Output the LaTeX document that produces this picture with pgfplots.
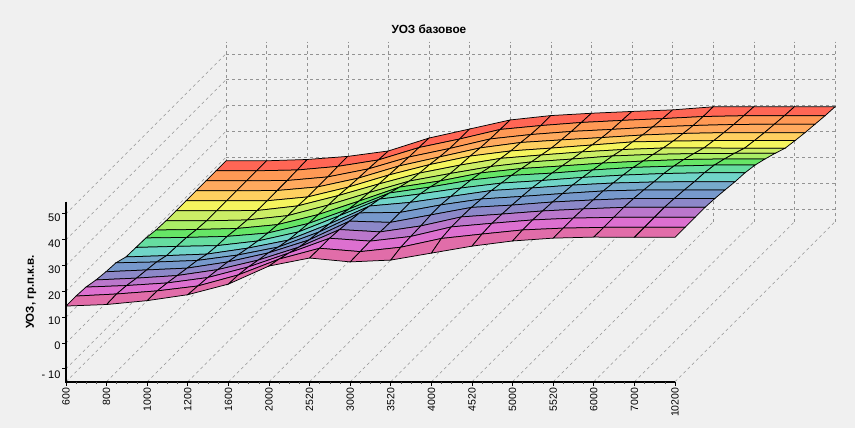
\documentclass[border=0pt]{standalone}
\usepackage{fontspec}
\setmainfont{Liberation Sans}
\usepackage{pgfplots}
\pgfplotsset{compat=1.18}
\definecolor{bg}{HTML}{F0F0F0}
\pgfdeclareplotmark{xmajor}{\pgfpathmoveto{\pgfpoint{0pt}{0pt}}\pgfpathlineto{\pgfpoint{0pt}{-4pt}}\pgfusepathqstroke}
\pgfdeclareplotmark{xminor}{\pgfpathmoveto{\pgfpoint{0pt}{0pt}}\pgfpathlineto{\pgfpoint{0pt}{-2.5pt}}\pgfusepathqstroke}
\pgfdeclareplotmark{zmajor}{\pgfpathmoveto{\pgfpoint{0pt}{0pt}}\pgfpathlineto{\pgfpoint{-4pt}{0pt}}\pgfusepathqstroke}
\begin{document}
\begin{tikzpicture}[x=1pt,y=1pt]
\useasboundingbox (0,0) rectangle (855,428);
\fill[bg] (0,0) rectangle (855,428);
\begin{axis}[
  at={(66pt,85pt)}, anchor=origin,
  x={(40.6pt,0pt)}, y={(10pt,10pt)}, z={(0pt,2.583pt)},
  xmin=0, xmax=15, ymin=0, ymax=16, zmin=-15, zmax=54.7,
  clip=false,
  axis line style={draw=none},
  xtick={0,...,15},
  xticklabels={600,800,1000,1200,1600,2000,2520,3000,3520,4000,4520,5000,5520,6000,7000,10200},
  x tick label style={rotate=90,anchor=east,font=\fontsize{10.5}{11}\selectfont,xshift=-2.5pt},
  ytick=\empty,
  ztick={-10,0,...,50},
  zticklabels={- 10,0,10,20,30,40,50},
  z tick label style={font=\fontsize{11}{12}\selectfont,xshift=-2pt},
  /pgf/number format/assume math mode=true,
  grid=major,
  grid style={gray!85,line width=0.55pt,dash pattern=on 3pt off 3pt},
  tick style={draw=none},
  colormap={bands}{
    rgb255=(227,108,156) rgb255=(221,112,208) rgb255=(187,119,204) rgb255=(140,136,200)
    rgb255=(119,153,204) rgb255=(119,170,204) rgb255=(112,213,200) rgb255=(102,221,160)
    rgb255=(102,229,102) rgb255=(170,238,102) rgb255=(204,238,102) rgb255=(245,245,94)
    rgb255=(255,208,96) rgb255=(255,170,94) rgb255=(255,153,85) rgb255=(255,85,85)},
  point meta=y, point meta min=0.5, point meta max=15.5,
]
\addplot3[surf, shader=faceted, faceted color=black, line width=0.75pt, mesh/cols=16] coordinates {
(0,16,8.6)(1,16,8.6)(2,16,9.1)(3,16,10.3)(4,16,12.4)(5,16,17.4)(6,16,20.9)(7,16,24.4)(8,16,26.1)(9,16,27.0)(10,16,27.7)(11,16,28.3)(12,16,29.5)(13,16,29.5)(14,16,29.5)(15,16,29.5)
(0,15,8.6)(1,15,8.6)(2,15,8.9)(3,15,10.3)(4,15,12.8)(5,15,17.6)(6,15,20.9)(7,15,24.6)(8,15,26.1)(9,15,27.3)(10,15,28.1)(11,15,28.8)(12,15,29.6)(13,15,29.9)(14,15,29.9)(15,15,29.9)
(0,14,8.6)(1,14,8.6)(2,14,8.7)(3,14,10.1)(4,14,13.2)(5,14,17.8)(6,14,21.1)(7,14,24.8)(8,14,26.5)(9,14,27.7)(10,14,28.5)(11,14,29.4)(12,14,30.0)(13,14,30.4)(14,14,30.5)(15,14,30.5)
(0,13,8.6)(1,13,8.6)(2,13,8.7)(3,13,10.1)(4,13,13.5)(5,13,18.2)(6,13,21.7)(7,13,25.2)(8,13,27.3)(9,13,28.3)(10,13,29.2)(11,13,30.2)(12,13,30.8)(13,13,31.1)(14,13,31.1)(15,13,31.1)
(0,12,8.6)(1,12,8.6)(2,12,8.6)(3,12,10.1)(4,12,13.9)(5,12,18.6)(6,12,22.6)(7,12,25.9)(8,12,27.9)(9,12,29.0)(10,12,30.2)(11,12,31.4)(12,12,31.7)(13,12,31.9)(14,12,31.9)(15,12,31.9)
(0,11,8.6)(1,11,8.6)(2,11,8.7)(3,11,10.5)(4,11,14.5)(5,11,19.0)(6,11,23.2)(7,11,26.3)(8,11,28.9)(9,11,30.2)(10,11,31.4)(11,11,32.3)(12,11,32.9)(13,11,32.9)(14,11,32.8)(15,11,32.8)
(0,10,8.6)(1,10,8.6)(2,10,8.9)(3,10,10.6)(4,10,14.7)(5,10,19.5)(6,10,24.0)(7,10,26.9)(8,10,29.6)(9,10,31.4)(10,10,32.5)(11,10,33.7)(12,10,34.3)(13,10,34.6)(14,10,34.7)(15,10,34.7)
(0,9,8.9)(1,9,9.1)(2,9,9.5)(3,9,11.0)(4,9,14.9)(5,9,20.1)(6,9,25.5)(7,9,27.9)(8,9,31.0)(9,9,32.7)(10,9,33.7)(11,9,34.8)(12,9,35.6)(13,9,36.2)(14,9,36.4)(15,9,36.4)
(0,8,9.7)(1,8,9.9)(2,8,10.3)(3,8,11.6)(4,8,15.3)(5,8,20.9)(6,8,27.1)(7,8,29.4)(8,8,32.1)(9,8,33.9)(10,8,34.8)(11,8,36.0)(12,8,37.0)(13,8,37.5)(14,8,37.9)(15,8,37.9)
(0,7,9.9)(1,7,10.3)(2,7,10.6)(3,7,12.4)(4,7,15.9)(5,7,22.1)(6,7,28.6)(7,7,30.6)(8,7,32.9)(9,7,34.8)(10,7,35.8)(11,7,37.0)(12,7,37.9)(13,7,38.5)(14,7,38.8)(15,7,38.8)
(0,6,10.1)(1,6,10.6)(2,6,11.2)(3,6,13.5)(4,6,16.6)(5,6,22.8)(6,6,29.8)(7,6,31.2)(8,6,33.5)(9,6,35.8)(10,6,36.8)(11,6,37.9)(12,6,38.7)(13,6,39.1)(14,6,39.2)(15,6,39.2)
(0,5,11.7)(1,5,12.0)(2,5,12.6)(3,5,14.7)(4,5,17.8)(5,5,23.6)(6,5,31.0)(7,5,31.2)(8,5,34.1)(9,5,36.4)(10,5,37.4)(11,5,38.5)(12,5,39.5)(13,5,39.9)(14,5,39.9)(15,5,39.9)
(0,4,12.1)(1,4,12.8)(2,4,13.5)(3,4,15.9)(4,4,19.4)(5,4,24.4)(6,4,31.7)(7,4,31.2)(8,4,34.1)(9,4,37.0)(10,4,37.9)(11,4,39.1)(12,4,39.9)(13,4,40.5)(14,4,40.5)(15,4,40.5)
(0,3,12.8)(1,3,13.5)(2,3,14.5)(3,3,16.8)(4,3,20.5)(5,3,25.5)(6,3,32.3)(7,3,31.4)(8,3,33.7)(9,3,37.2)(10,3,38.3)(11,3,39.5)(12,3,40.3)(13,3,40.9)(14,3,40.9)(15,3,40.9)
(0,2,13.9)(1,2,14.5)(2,2,15.5)(3,2,17.6)(4,2,21.7)(5,2,27.1)(6,2,32.8)(7,2,31.7)(8,2,33.5)(9,2,37.2)(10,2,38.6)(11,2,39.9)(12,2,40.6)(13,2,40.9)(14,2,40.9)(15,2,40.9)
(0,1,14.3)(1,1,15.1)(2,1,16.3)(3,1,18.2)(4,1,22.5)(5,1,28.6)(6,1,32.8)(7,1,31.5)(8,1,33.2)(9,1,36.6)(10,1,38.3)(11,1,39.9)(12,1,40.6)(13,1,40.9)(14,1,40.9)(15,1,40.9)
(0,0,14.3)(1,0,14.9)(2,0,16.4)(3,0,18.7)(4,0,22.8)(5,0,29.8)(6,0,32.9)(7,0,31.4)(8,0,32.1)(9,0,34.8)(10,0,37.5)(11,0,39.5)(12,0,40.6)(13,0,41.0)(14,0,40.9)(15,0,40.9)
};
% axis lines and tick marks, drawn by hand so only the front edges get them
\addplot3[black, line width=2pt, no marks] coordinates {(0,0,54.7)(0,0,-15)(15,0,-15)};
\addplot3[black, line width=0.8pt, only marks, mark=xmajor] coordinates {(0,0,-15)(1,0,-15)(2,0,-15)(3,0,-15)(4,0,-15)(5,0,-15)(6,0,-15)(7,0,-15)(8,0,-15)(9,0,-15)(10,0,-15)(11,0,-15)(12,0,-15)(13,0,-15)(14,0,-15)(15,0,-15)};
\addplot3[black!70, line width=0.7pt, only marks, mark=xminor] coordinates {
(0.25,0,-15)(0.5,0,-15)(0.75,0,-15)(1.25,0,-15)(1.5,0,-15)(1.75,0,-15)(2.25,0,-15)(2.5,0,-15)(2.75,0,-15)
(3.25,0,-15)(3.5,0,-15)(3.75,0,-15)(4.25,0,-15)(4.5,0,-15)(4.75,0,-15)(5.25,0,-15)(5.5,0,-15)(5.75,0,-15)
(6.25,0,-15)(6.5,0,-15)(6.75,0,-15)(7.25,0,-15)(7.5,0,-15)(7.75,0,-15)(8.25,0,-15)(8.5,0,-15)(8.75,0,-15)
(9.25,0,-15)(9.5,0,-15)(9.75,0,-15)(10.25,0,-15)(10.5,0,-15)(10.75,0,-15)(11.25,0,-15)(11.5,0,-15)(11.75,0,-15)
(12.25,0,-15)(12.5,0,-15)(12.75,0,-15)(13.25,0,-15)(13.5,0,-15)(13.75,0,-15)(14.25,0,-15)(14.5,0,-15)(14.75,0,-15)};
\addplot3[black, line width=0.8pt, only marks, mark=zmajor] coordinates {(0,0,-10)(0,0,0)(0,0,10)(0,0,20)(0,0,30)(0,0,40)(0,0,50)};
\end{axis}
\node[font=\fontsize{11.8}{13}\selectfont\bfseries] at (429,399) {УОЗ базовое};
\node[rotate=90,font=\fontsize{11.5}{13}\selectfont\bfseries] at (31,136) {УОЗ, гр.п.к.в.};
\end{tikzpicture}
\end{document}
